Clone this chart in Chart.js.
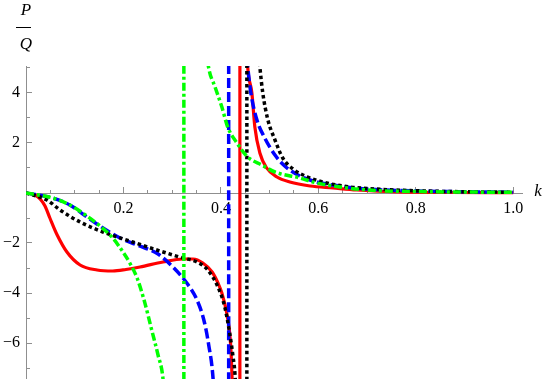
<!DOCTYPE html>
<html>
<head>
<meta charset="utf-8">
<script src="https://cdn.jsdelivr.net/npm/chart.js@4.4.1/dist/chart.umd.min.js"></script>
<style>
  html, body { margin: 0; padding: 0; background: #fff; }
  #c { display: block; }
</style>
</head>
<body>
<canvas id="c" width="545" height="379"></canvas>
<script>
// ---- data ----
const kRed   = [0, 0.0185, 0.029, 0.039, 0.049, 0.064, 0.084, 0.111, 0.146, 0.178, 0.205, 0.234, 0.281, 0.322, 0.343, 0.363, 0.382, 0.394, 0.402, 0.412, 0.418, 0.421, 0.4226, 0.430, 0.436, 0.4389, 0.4391, 0.443, 0.447, 0.451, 0.455, 0.4636, 0.4697, 0.480, 0.494, 0.515, 0.5415, 0.583, 0.630, 0.679, 0.767, 0.870, 1.0];
const vRed   = [0, -0.08, -0.24, -0.52, -1.0, -1.68, -2.36, -2.88, -3.08, -3.12, -3.06, -2.96, -2.76, -2.64, -2.64, -2.8, -3.16, -3.6, -4.0, -4.8, -5.6, -6.4, -7.2, -13, -39, -100, 100, 20, 10, 6.7, 5.04, 4.0, 2.64, 1.6, 1.0, 0.64, 0.44, 0.28, 0.2, 0.12, 0.04, 0.02, 0.01];

const kBlue  = [0, 0.055, 0.09, 0.125, 0.158, 0.193, 0.228, 0.271, 0.3015, 0.33, 0.351, 0.365, 0.375, 0.384, 0.395, 0.405, 0.412, 0.4159, 0.4161, 0.425, 0.435, 0.445, 0.455, 0.4615, 0.474, 0.49, 0.511, 0.531, 0.562, 0.597, 0.644, 0.70, 0.80, 0.90, 1.0];
const vBlue  = [0, -0.2, -0.48, -0.96, -1.4, -1.8, -2.08, -2.44, -2.96, -3.6, -4.28, -5.08, -6.08, -7.44, -11.5, -22, -60, -100, 100, 22, 10.4, 6.8, 5.04, 4.0, 2.92, 2.2, 1.52, 1.08, 0.68, 0.44, 0.28, 0.16, 0.08, 0.05, 0.03];

const kBlack = [0, 0.043, 0.07, 0.111, 0.158, 0.219, 0.275, 0.322, 0.351, 0.373, 0.394, 0.408, 0.418, 0.425, 0.429, 0.437, 0.445, 0.4532, 0.4534, 0.46, 0.468, 0.475, 0.480, 0.486, 0.496, 0.511, 0.527, 0.548, 0.578, 0.617, 0.665, 0.70, 0.80, 0.90, 1.0];
const vBlack = [0, -0.28, -0.68, -1.16, -1.56, -1.96, -2.32, -2.6, -2.76, -3.08, -3.76, -4.56, -5.6, -6.56, -7.28, -11, -21, -100, 100, 20, 9.2, 6.2, 5.04, 4.0, 2.96, 2.12, 1.4, 0.96, 0.64, 0.4, 0.24, 0.18, 0.09, 0.05, 0.03];

const kGreen = [0, 0.055, 0.09, 0.125, 0.152, 0.178, 0.199, 0.213, 0.228, 0.244, 0.258, 0.271, 0.281, 0.295, 0.31, 0.3239, 0.3241, 0.335, 0.35, 0.36, 0.375, 0.388, 0.402, 0.414, 0.433, 0.455, 0.484, 0.511, 0.562, 0.597, 0.638, 0.70, 0.835, 1.0];
const vGreen = [0, -0.2, -0.48, -0.92, -1.32, -1.8, -2.36, -2.8, -3.4, -4.4, -5.48, -6.48, -7.4, -11, -23, -100, 100, 24, 10, 7.2, 5.0, 4.24, 3.44, 2.64, 2.0, 1.44, 1.12, 0.84, 0.6, 0.4, 0.26, 0.12, 0.05, 0.03];

const xTickValues = [0.2, 0.4, 0.6, 0.8, 1.0];
const xTickLabels = ['0.2', '0.4', '0.6', '0.8', '1.0'];
const yTickValues = [-6, -4, -2, 2, 4];
const yTickLabels = ['\u22126', '\u22124', '\u22122', '2', '4'];
const xLabel = 'k';
const yLabelTop = 'P';
const yLabelBottom = 'Q';

// ---- helpers ----
const pts = (ks, vs) => ks.map((k, i) => ({x: k, y: vs[i]}));
const AXIS = '#8f8f8f';
const LABEL_FONT = {family: '"Liberation Serif", "Times New Roman", serif', size: 16};
const zeroPad = (s) => { s.paddingLeft = 0; s.paddingRight = 0; s.paddingTop = 0; s.paddingBottom = 0; };

const XMIN = 0, XMAX = 1.018, YMIN = -7.44, YMAX = 5.08;

const axisTitles = {
  id: 'axisTitles',
  afterDraw(chart) {
    const ctx = chart.ctx;
    ctx.save();
    ctx.fillStyle = '#000';
    ctx.font = 'italic 17px "Liberation Serif", serif';
    ctx.textAlign = 'center';
    ctx.textBaseline = 'middle';
    ctx.fillText(yLabelTop, 26, 11);
    ctx.fillText(yLabelBottom, 26, 45);
    ctx.strokeStyle = '#000';
    ctx.lineWidth = 1;
    ctx.beginPath();
    ctx.moveTo(16, 27.5);
    ctx.lineTo(31, 27.5);
    ctx.stroke();
    ctx.fillText(xLabel, 538, 192);
    ctx.restore();
  }
};

const common = {fill: false, pointRadius: 0, borderCapStyle: 'butt', cubicInterpolationMode: 'monotone'};

new Chart(document.getElementById('c'), {
  type: 'line',
  data: {
    datasets: [
      Object.assign({label: 'green', data: pts(kGreen, vGreen), borderColor: '#00ff00', borderWidth: 3.5, borderDash: [8, 3, 3, 3], order: 1}, common),
      Object.assign({label: 'black', data: pts(kBlack, vBlack), borderColor: '#000000', borderWidth: 3.5, borderDash: [3.5, 3], order: 2}, common),
      Object.assign({label: 'blue',  data: pts(kBlue, vBlue),   borderColor: '#0000ff', borderWidth: 3.5, borderDash: [10, 4], order: 3}, common),
      Object.assign({label: 'red',   data: pts(kRed, vRed),     borderColor: '#ff0000', borderWidth: 3.2, order: 4}, common)
    ]
  },
  options: {
    responsive: false,
    animation: false,
    events: [],
    layout: {padding: {left: 0, right: 23, top: 66, bottom: 0}},
    plugins: {legend: {display: false}, tooltip: {enabled: false}},
    scales: {
      x: {
        type: 'linear', min: XMIN, max: XMAX, position: {y: 0},
        grid: {display: true, drawOnChartArea: false, drawTicks: true, tickLength: -4, tickColor: AXIS, tickWidth: 1},
        border: {display: true, color: AXIS, width: 1},
        ticks: {stepSize: 0.05, maxTicksLimit: 1000, includeBounds: false, callback: () => ''},
        afterFit: zeroPad
      },
      x2: {
        type: 'linear', min: XMIN, max: XMAX, position: {y: 0},
        grid: {display: true, drawOnChartArea: false, drawTicks: true, tickLength: -6, tickColor: AXIS, tickWidth: 1},
        border: {display: false},
        afterBuildTicks: (s) => { s.ticks = xTickValues.map(v => ({value: v})); },
        ticks: {padding: 12, color: '#000', font: LABEL_FONT, maxRotation: 0, autoSkip: false,
                callback: (v, i) => xTickLabels[i]},
        afterFit: zeroPad
      },
      y: {
        type: 'linear', min: YMIN, max: YMAX, position: {x: 0},
        grid: {display: true, drawOnChartArea: false, drawTicks: true, tickLength: -4, tickColor: AXIS, tickWidth: 1},
        border: {display: true, color: AXIS, width: 1},
        ticks: {stepSize: 0.5, maxTicksLimit: 1000, includeBounds: false, callback: () => ''},
        afterFit: zeroPad
      },
      y2: {
        type: 'linear', min: YMIN, max: YMAX, position: {x: 0},
        grid: {display: true, drawOnChartArea: false, drawTicks: true, tickLength: -6, tickColor: AXIS, tickWidth: 1},
        border: {display: false},
        afterBuildTicks: (s) => { s.ticks = yTickValues.map(v => ({value: v})); },
        ticks: {autoSkip: false, callback: () => ''},
        afterFit: zeroPad
      },
      yl: {
        type: 'linear', min: YMIN, max: YMAX, position: 'left',
        grid: {display: false, drawTicks: false},
        border: {display: false},
        afterBuildTicks: (s) => { s.ticks = yTickValues.map(v => ({value: v})); },
        ticks: {padding: 6, color: '#000', font: LABEL_FONT, autoSkip: false,
                callback: (v, i) => yTickLabels[i]},
        afterFit: (s) => { zeroPad(s); s.width = 26; }
      }
    }
  },
  plugins: [axisTitles]
});
</script>
</body>
</html>
